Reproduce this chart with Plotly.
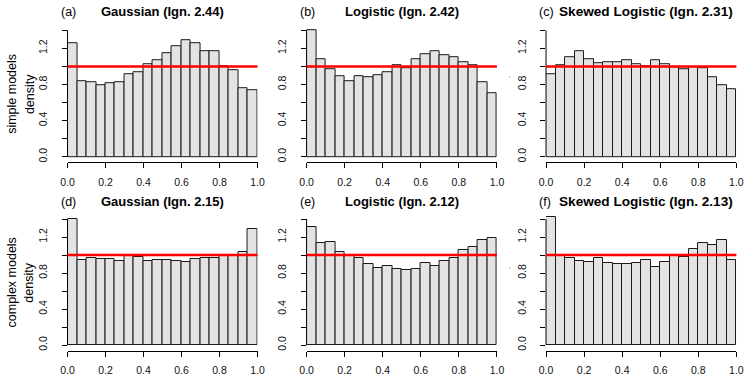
import plotly.graph_objects as go

# ---- data (density per PIT bin, 20 equal bins on [0,1]) ----
bin_edges = [i / 20 for i in range(21)]
bin_centers = [(bin_edges[i] + bin_edges[i + 1]) / 2 for i in range(20)]

gauss_simple = [1.257, 0.831, 0.824, 0.787, 0.816, 0.824, 0.919, 0.941, 1.029, 1.066,
                1.151, 1.228, 1.290, 1.257, 1.169, 1.169, 1.007, 0.960, 0.761, 0.739]
logis_simple = [1.404, 1.085, 0.971, 0.890, 0.838, 0.893, 0.875, 0.904, 0.934, 1.015,
                0.978, 1.085, 1.136, 1.173, 1.125, 1.103, 1.048, 1.015, 0.820, 0.699]
skewl_simple = [0.919, 1.015, 1.103, 1.173, 1.085, 1.040, 1.051, 1.051, 1.063, 1.029,
                1.000, 1.066, 1.022, 0.995, 0.974, 0.993, 0.985, 0.882, 0.790, 0.743]
gauss_complex = [1.396, 0.948, 0.963, 0.959, 0.956, 0.933, 1.000, 0.974, 0.933, 0.948,
                 0.944, 0.933, 0.919, 0.952, 0.970, 0.963, 1.000, 0.989, 1.030, 1.285]
logis_complex = [1.315, 1.130, 1.141, 1.037, 0.985, 0.970, 0.896, 0.859, 0.881, 0.848,
                 0.833, 0.848, 0.907, 0.881, 0.937, 0.967, 1.056, 1.093, 1.170, 1.189]
skewl_complex = [1.426, 1.000, 0.967, 0.937, 0.919, 0.970, 0.915, 0.904, 0.900, 0.907,
                 0.948, 0.870, 0.922, 0.985, 0.978, 1.067, 1.137, 1.107, 1.170, 0.941]

panel_values = [gauss_simple, logis_simple, skewl_simple,
                gauss_complex, logis_complex, skewl_complex]
panel_tags = ["(a)", "(b)", "(c)", "(d)", "(e)", "(f)"]
panel_titles = ["Gaussian (Ign. 2.44)", "Logistic (Ign. 2.42)", "Skewed Logistic (Ign. 2.31)",
                "Gaussian (Ign. 2.15)", "Logistic (Ign. 2.12)", "Skewed Logistic (Ign. 2.13)"]
row_label_lines = [["simple models", "density"], ["complex models", "density"]]

x_ticks = [0.0, 0.2, 0.4, 0.6, 0.8, 1.0]
x_ticktext = ["0.0", "0.2", "0.4", "0.6", "0.8", "1.0"]
y_ticks = [0.0, 0.2, 0.4, 0.6, 0.8, 1.0, 1.2, 1.4]
y_ticktext = ["0.0", "", "0.4", "", "0.8", "", "1.2", ""]
reference_level = 1.0

# ---- layout geometry ----
W, H = 748, 380
col_px = [(61.7, 255.3), (305.3, 499.3), (549.3, 743.3)]
row_px = [(25.2, 162.3), (214.0, 350.7)]   # top, bottom (pixels from top)
title_cx = [158.4, 402.6, 651.0]
title_size = [13, 13, 13.6]
y_range = [-0.062, 1.456]

FONT = "Liberation Sans, Arial, Helvetica, sans-serif"

fig = go.Figure()
annotations = []
shapes = []

for k in range(6):
    r, c = divmod(k, 3)
    idx = "" if k == 0 else str(k + 1)
    xa, ya = "x" + idx, "y" + idx
    xd = [col_px[c][0] / W, col_px[c][1] / W]
    yd = [1 - row_px[r][1] / H, 1 - row_px[r][0] / H]

    fig.add_trace(go.Bar(
        x=bin_centers, y=panel_values[k], width=0.05,
        marker=dict(color="#E3E3E3", line=dict(color="#1a1a1a", width=1)),
        xaxis=xa, yaxis=ya, showlegend=False, hoverinfo="x+y",
    ))

    fig.layout["xaxis" + idx] = dict(
        domain=xd, range=[0, 1], anchor=ya,
        showline=True, linecolor="#000", linewidth=1,
        ticks="outside", ticklen=5, tickcolor="#000", tickwidth=1,
        tickvals=x_ticks, ticktext=x_ticktext, ticklabelstandoff=5,
        ticklabeloverflow="allow",
        tickfont=dict(family=FONT, size=10.5, color="#111"),
        showgrid=False, zeroline=False, fixedrange=True,
    )
    fig.layout["yaxis" + idx] = dict(
        domain=yd, range=y_range, anchor=xa,
        showline=False,
        ticks="outside", ticklen=5, tickcolor="#000", tickwidth=1,
        tickvals=y_ticks, ticktext=y_ticktext, tickangle=-90, ticklabelstandoff=10,
        tickfont=dict(family=FONT, size=10.5, color="#111"),
        showgrid=False, zeroline=False, fixedrange=True,
    )

    # y axis line spanning the tick range (like R's axis())
    shapes.append(dict(type="line", xref=xa + " domain", x0=0, x1=0,
                       yref=ya, y0=y_ticks[0], y1=y_ticks[-1],
                       line=dict(color="#000", width=1), layer="above"))
    # uniform reference line
    shapes.append(dict(type="line", xref=xa + " domain", x0=0, x1=1,
                       yref=ya, y0=reference_level, y1=reference_level,
                       line=dict(color="#FF0000", width=2.5), layer="above"))

    title_y = 1 - (11.7 if r == 0 else 201.7) / H
    annotations.append(dict(
        text="<b>" + panel_titles[k] + "</b>", xref="paper", yref="paper",
        x=title_cx[c] / W, y=title_y, xanchor="center", yanchor="middle",
        showarrow=False, font=dict(family=FONT, size=title_size[c], color="#000")))
    annotations.append(dict(
        text=panel_tags[k], xref="paper", yref="paper",
        x=(col_px[c][0] - 8.7) / W, y=title_y, xanchor="left", yanchor="middle",
        showarrow=False, font=dict(family=FONT, size=12.5, color="#000")))

for r in range(2):
    yc = 1 - (row_px[r][0] + row_px[r][1]) / 2 / H
    for line_text, xpx in zip(row_label_lines[r], [5.2, 22.8]):
        annotations.append(dict(
            text=line_text, xref="paper", yref="paper",
            x=xpx / W, y=yc, xanchor="center", yanchor="middle", textangle=-90,
            showarrow=False, font=dict(family=FONT, size=12.5, color="#000")))
    annotations.append(dict(
        text="'", xref="paper", yref="paper",
        x=511.7 / W, y=1 - (79 if r == 0 else 269) / H, xanchor="center", yanchor="middle",
        showarrow=False, font=dict(family=FONT, size=7, color="#555")))

fig.update_layout(
    width=W, height=H, margin=dict(l=0, r=0, t=0, b=0),
    paper_bgcolor="white", plot_bgcolor="white",
    bargap=0, annotations=annotations, shapes=shapes,
    font=dict(family=FONT),
)

fig.write_html("out.html", config={"displayModeBar": False},
               post_script="document.body.style.margin='0';document.body.style.overflow='hidden';")
